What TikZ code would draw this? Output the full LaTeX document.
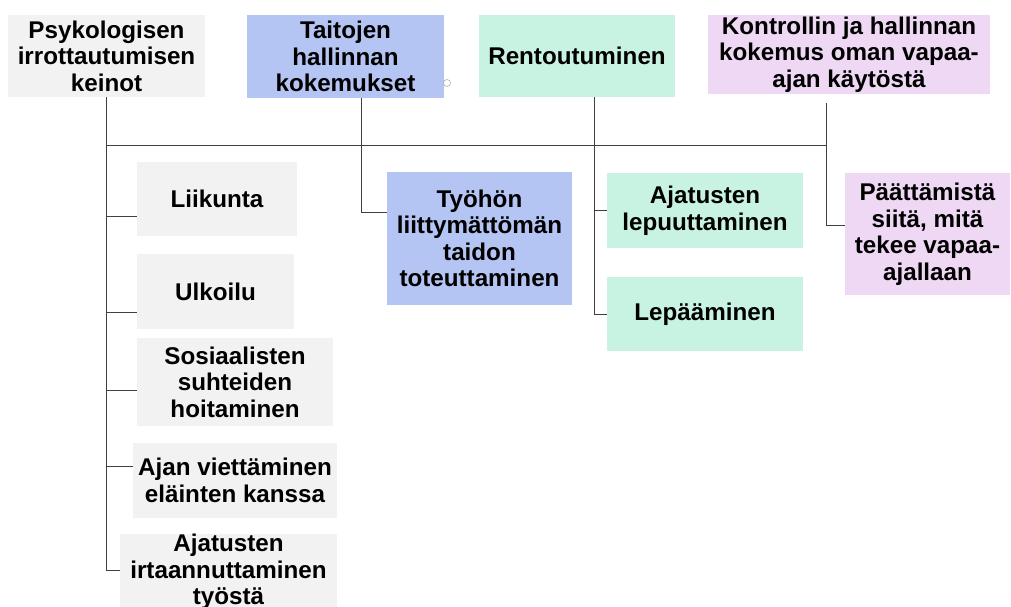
\documentclass[tikz,border=0pt]{standalone}
\usepackage{fontspec}
\setmainfont{Liberation Sans}
\usetikzlibrary{calc}

\definecolor{grayfill}{HTML}{F2F2F2}
\definecolor{bluefill}{HTML}{B4C4F3}
\definecolor{greenfill}{HTML}{C8F3E3}
\definecolor{pinkfill}{HTML}{EED8F3}
\definecolor{linegray}{HTML}{404040}

\begin{document}
\begin{tikzpicture}[x=1pt,y=-1pt]

\tikzstyle{topic}=[fill=#1,align=center,inner sep=0pt,font=\bfseries\fontsize{24.2}{26.5}\selectfont];
\tikzset{link/.style={draw=linegray,line width=1pt}};

\useasboundingbox (0,0) rectangle (1011,607);
\clip (0,0) rectangle (1011,607);

% Draw the main topics
\node[topic=grayfill,minimum width=197pt,minimum height=82pt] (psyk) at (106.5,56) {Psykologisen\\irrottautumisen\\keinot};
\node[topic=bluefill,minimum width=197pt,minimum height=83pt] (taito) at (345.5,56.5) {Taitojen\\hallinnan\\kokemukset};
\node[topic=greenfill,minimum width=196pt,minimum height=82pt] (rento) at (577,56) {Rentoutuminen};
\node[topic=pinkfill,minimum width=282pt,minimum height=79pt] (kontr) at (849,54.5) {Kontrollin ja hallinnan\\kokemus oman vapaa-\\ajan käytöstä};

% Draw the subtopics
\node[topic=grayfill,minimum width=160pt,minimum height=74pt] (liik) at (217,199) {Liikunta};
\node[topic=grayfill,minimum width=157pt,minimum height=75pt] (ulko) at (215.5,291.5) {Ulkoilu};
\node[topic=grayfill,minimum width=196pt,minimum height=88pt] (sosi) at (235,382) {Sosiaalisten\\suhteiden\\hoitaminen};
\node[topic=grayfill,minimum width=204pt,minimum height=75pt] (ajan) at (235,480.5) {Ajan viettäminen\\eläinten kanssa};
\node[topic=grayfill,minimum width=217pt,minimum height=72pt] (irta) at (228.5,572) {Ajatusten\\irtaannuttaminen\\työstä};
\node[topic=bluefill,minimum width=185pt,minimum height=133pt] (tyo) at (479.5,238.5) {Työhön\\liittymättömän\\taidon\\toteuttaminen};
\node[topic=greenfill,minimum width=196pt,minimum height=75pt] (lepu) at (705,210.5) {Ajatusten\\lepuuttaminen};
\node[topic=greenfill,minimum width=196pt,minimum height=74pt] (lepa) at (705,314) {Lepääminen};
\node[topic=pinkfill,minimum width=165pt,minimum height=122pt] (paat) at (927.5,234) {Päättämistä\\siitä, mitä\\tekee vapaa-\\ajallaan};

% Small handle next to the second topic
\node[draw=gray!60,circle,minimum size=7pt,inner sep=0pt,line width=0.6pt] (handle) at (447,83) {};

% Connectors
\coordinate (bus) at (0,145);
\draw[link] (psyk.south |- bus) -- ([xshift=-23pt]kontr.south |- bus);

\draw[link] (psyk.south) |- ([yshift=2pt]irta.west);
\foreach \n/\dy in {liik/-17,ulko/-20.5,sosi/-8,ajan/14.5}
  {\path ([yshift=\dy pt]\n.west) coordinate (\n-in);
   \draw[link] (psyk.south |- \n-in) -- (\n-in);}

\draw[link] ([xshift=15.5pt]taito.south) |- ([yshift=26.5pt]tyo.west);

\draw[link] ([xshift=17pt]rento.south) |- (lepa.west);
\draw[link] ([xshift=17pt]rento.south |- lepu.west) -- (lepu.west);

\draw[link] ([xshift=-23pt,yshift=-9pt]kontr.south) |- ([yshift=9pt]paat.west);

\end{tikzpicture}
\end{document}
